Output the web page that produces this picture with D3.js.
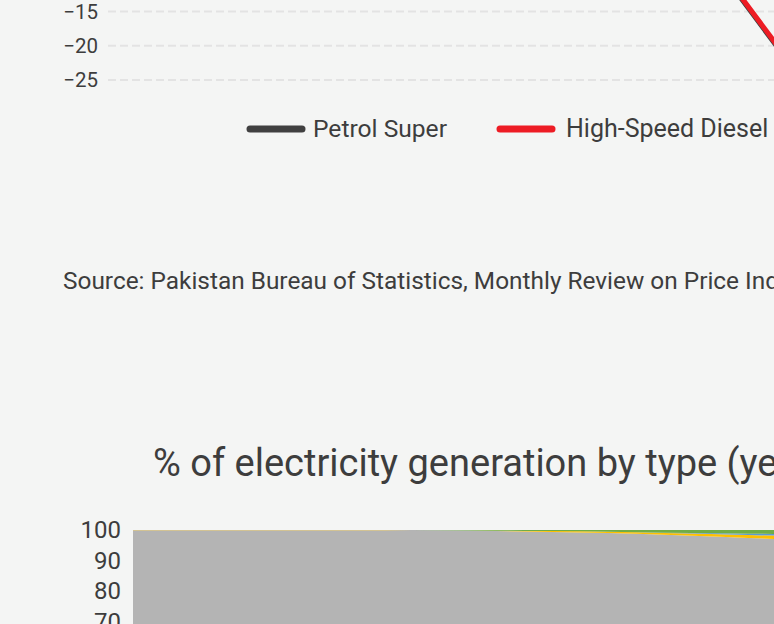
<!DOCTYPE html>
<html>
<head>
<meta charset="utf-8">
<script src="https://cdn.jsdelivr.net/npm/d3@7"></script>
<style>
  html, body { margin: 0; padding: 0; overflow: hidden; background: #f4f5f4; }
  text { font-family: Roboto, "Noto Sans", sans-serif; fill: #3d3d3d; }
</style>
</head>
<body>
<div id="viz"></div>
<script>
var width = 774;
var height = 624;

// fuel price change, % year on year (monthly)
var months = ["Jul 2019", "Aug 2019", "Sep 2019", "Oct 2019", "Nov 2019", "Dec 2019", "Jan 2020",
  "Feb 2020", "Mar 2020", "Apr 2020", "May 2020", "Jun 2020", "Jul 2020", "Aug 2020"];
var petrolSuper = [8, 10, 12, 11, 9, 10, 12, 13, 11, 6, 2, -10.9, -21.9, -24];
var highSpeedDiesel = [9, 11, 12, 12, 10, 11, 13, 14, 12, 7, 3, -10.7, -21.7, -23];
var fuelTicks = [-25, -20, -15];
var fuelNames = ["Petrol Super", "High-Speed Diesel"];
var fuelColors = ["#404040", "#ed1c24"];

// electricity generation share by type, %
var years = d3.range(1990, 2022);
var solar = [0.05, 0.05, 0.05, 0.05, 0.05, 0.05, 0.05, 0.1, 0.12, 0.08, 0.03, 0.03, 0.05, 0.1, 0.2, 0.3,
  0.35, 0.4, 0.5, 0.6, 0.7, 0.8, 0.95, 1.1, 1.4, 1.8, 2.3, 2.9, 3.5, 4.2, 5.0, 5.8];
var hydro = [0, 0, 0, 0, 0, 0, 0, 0, 0, 0, 0, 0, 0, 0, 0, 0,
  0, 0, 0.02, 0.05, 0.15, 0.3, 0.45, 0.55, 0.7, 0.9, 1.1, 1.3, 1.5, 1.7, 1.9, 2.1];
var wind = [0, 0, 0, 0, 0, 0, 0, 0, 0, 0, 0, 0.05, 0.15, 0.25, 0.3, 0.35,
  0.45, 0.6, 0.75, 0.9, 1.0, 1.1, 1.2, 1.3, 1.5, 1.7, 2.0, 2.3, 2.6, 3.0, 3.4, 3.8];
var thermal = years.map(function(y, i) { return 100 - solar[i] - hydro[i] - wind[i]; });
var genKeys = ["thermal", "solar", "hydro", "wind"];
var genColors = ["#b4b4b4", "#ffc000", "#5b9bd5", "#70ad47"];
var genTicks = [70, 80, 90, 100];

var svg = d3.select("#viz")
  .append("svg")
    .attr("width", width)
    .attr("height", height)
    .style("display", "block")
    .style("background-color", "#f4f5f4");

// ---- fuel price lines (bottom part of the first chart) ----
var x1 = d3.scalePoint().domain(months).range([114, 842]);
var y1 = d3.scaleLinear().domain([-25, 15]).range([80, 80 - 40 * 6.85]);

svg.append("g")
  .selectAll("line")
  .data(fuelTicks)
  .join("line")
    .attr("x1", 108)
    .attr("x2", 1000)
    .attr("y1", function(d) { return y1(d); })
    .attr("y2", function(d) { return y1(d); })
    .attr("stroke", "#e3e3e3")
    .attr("stroke-width", 2)
    .attr("stroke-dasharray", "8,4");

var yAxis1 = svg.append("g")
  .attr("transform", "translate(98,0)")
  .call(d3.axisLeft(y1).tickValues(fuelTicks).tickSize(0).tickPadding(0).tickFormat(d3.format("d")));
yAxis1.select(".domain").remove();
yAxis1.selectAll("text")
  .attr("font-size", 20.5)
  .style("font-family", "Roboto, sans-serif")
  .attr("fill", "#3d3d3d");

var fuelLine = d3.line()
  .x(function(d, i) { return x1(months[i]); })
  .y(function(d) { return y1(d); });

svg.append("g")
  .selectAll("path")
  .data([petrolSuper, highSpeedDiesel])
  .join("path")
    .attr("d", fuelLine)
    .attr("fill", "none")
    .attr("stroke", function(d, i) { return fuelColors[i]; })
    .attr("stroke-width", 5)
    .attr("stroke-linejoin", "round");

// legend
var legend = svg.append("g");
var legendX = [247, 497];
legend.selectAll("line")
  .data(fuelNames)
  .join("line")
    .attr("x1", function(d, i) { return legendX[i] + 3; })
    .attr("x2", function(d, i) { return legendX[i] + 55; })
    .attr("y1", 129)
    .attr("y2", 129)
    .attr("stroke", function(d, i) { return fuelColors[i]; })
    .attr("stroke-width", 7)
    .attr("stroke-linecap", "round");
legend.selectAll("text")
  .data(fuelNames)
  .join("text")
    .attr("x", function(d, i) { return legendX[i] + (i ? 69 : 66); })
    .attr("y", 137)
    .attr("font-size", function(d, i) { return i ? 25 : 24.6; })
    .text(function(d) { return d; });

svg.append("text")
  .attr("x", 63)
  .attr("y", 289)
  .attr("font-size", 24.4)
  .text("Source: Pakistan Bureau of Statistics, Monthly Review on Price Indices");

// ---- electricity generation stacked area (top of the second chart) ----
svg.append("text")
  .attr("x", 153)
  .attr("y", 476)
  .attr("font-size", 38)
  .text("% of electricity generation by type (year)");

var genData = years.map(function(y, i) {
  return { year: y, thermal: thermal[i], solar: solar[i], hydro: hydro[i], wind: wind[i] };
});
var series = d3.stack().keys(genKeys)(genData);

var x2 = d3.scaleLinear().domain([1990, 2021]).range([133, 1000]);
var y2 = d3.scaleLinear().domain([0, 100]).range([835, 530]);

var area = d3.area()
  .x(function(d) { return x2(d.data.year); })
  .y0(function(d) { return y2(d[0]); })
  .y1(function(d) { return y2(d[1]); });

svg.append("g")
  .selectAll("path")
  .data(series)
  .join("path")
    .attr("d", area)
    .attr("fill", function(d, i) { return genColors[i]; });

var yAxis2 = svg.append("g")
  .attr("transform", "translate(121,0)")
  .call(d3.axisLeft(y2).tickValues(genTicks).tickSize(0).tickPadding(0));
yAxis2.select(".domain").remove();
yAxis2.selectAll("text")
  .attr("font-size", 24)
  .style("font-family", "Roboto, sans-serif")
  .attr("fill", "#3d3d3d");
</script>
</body>
</html>
